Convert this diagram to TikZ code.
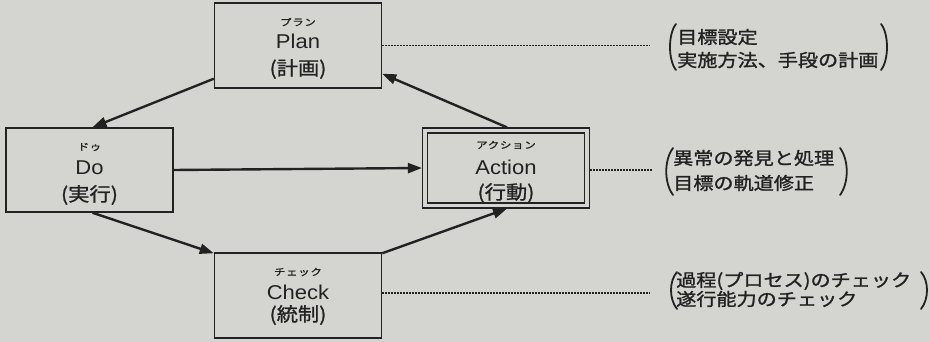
\documentclass[tikz,border=0pt]{standalone}
\usepackage{fontspec}
\setmainfont{Liberation Sans}[FakeStretch=1.1]
\newfontfamily\jp{Noto Sans CJK JP}[FakeStretch=1.12,FakeBold=1.2]
\newfontfamily\jpnote{Noto Sans CJK JP}[FakeStretch=1.15,FakeBold=1.4]
\newfontfamily\jpruby{Noto Sans CJK JP}[FakeStretch=1.2,LetterSpace=8,FakeBold=1.5]
\usetikzlibrary{arrows.meta,calc}
\definecolor{paper}{RGB}{212,212,208}
\definecolor{ink}{RGB}{34,34,34}
\begin{document}
\begin{tikzpicture}[x=1pt,y=-1pt,
  box/.style={draw=ink,line width=1.5pt,fill=paper,minimum width=167pt,minimum height=85pt,inner sep=0pt,outer sep=0.75pt},
  dbox/.style={draw=ink,line width=1.3pt,double=paper,double distance=3.6pt,minimum width=162pt,minimum height=75pt,inner sep=0pt,outer sep=3.1pt},
  arr/.style={draw=ink,line width=2.4pt,-{Triangle[length=14pt,width=10pt]}},
  dots/.style={draw=ink,line width=1.1pt,dash pattern=on 1.4pt off 1.6pt},
  paren/.style={draw=ink,line width=1.8pt,line cap=round},
  ruby/.style={text=ink,font=\jpruby\fontsize{9.5}{10}\selectfont,inner sep=0pt},
  lat/.style={text=ink,font=\fontsize{20}{21}\selectfont,inner sep=0pt},
  jpl/.style={text=ink,font=\jp\fontsize{19}{20}\selectfont,inner sep=0pt},
  note/.style={text=ink,font=\jpnote\fontsize{17.5}{18}\selectfont,inner sep=0pt,anchor=west}
]
\fill[paper] (0,0) rectangle (929,342);
\useasboundingbox (0,0) rectangle (929,342);

% boxes
\node[box] (plan) at (298,45.5) {};
\node[box,minimum height=84pt] (do) at (89.5,170) {};
\node[dbox] (action) at (506,168) {};
\node[box] (check) at (298,295.5) {};

% box labels
\node[ruby] (planr) at (298,22) {プラン};
\node[lat] (planl) at (298,41) {Plan};
\node[jpl] (planj) at (298,69) {(計画)};

\node[ruby] (dor) at (89.5,147) {ドゥ};
\node[lat] (dol) at (89.5,168) {Do};
\node[jpl] (doj) at (89.5,195) {(実行)};

\node[ruby] (actr) at (506,145) {アクション};
\node[lat] (actl) at (506,167) {Action};
\node[jpl] (actj) at (506,193) {(行動)};

\node[ruby] (chkr) at (298,272) {チェック};
\node[lat] (chkl) at (298,292) {Check};
\node[jpl] (chkj) at (298,315) {(統制)};

% arrows
\draw[arr] ([yshift=10pt]plan.south west) -- ([xshift=3pt]do.north);
\draw[arr] ([xshift=3pt]do.south) -- ([yshift=-1pt]check.north west);
\draw[arr] ([yshift=-1pt]check.north east) -- ([xshift=1pt]action.south);
\draw[arr] ([xshift=1pt]action.north) -- ([yshift=15pt]plan.south east);
\draw[arr] (do.east) -- (action.west);

% dotted leaders
\coordinate (n1) at (650,45.5);
\coordinate (n2) at (652,170);
\coordinate (n3) at (650,293);
\draw[dots] (plan.east) -- (n1);
\draw[dots] ([yshift=-2pt]action.east) -- (n2);
\draw[dots] ([yshift=2.5pt]check.east) -- (n3);

% notes
\node[note] (t1a) at (677,37) {目標設定};
\node[note] (t1b) at (677,60) {実施方法、手段の計画};
\draw[paren] (676,24) .. controls (668,34) and (668,60) .. (676,70);
\draw[paren] (881,24) .. controls (889,34) and (889,60) .. (881,70);

\node[note] (t2a) at (673,158) {異常の発見と処理};
\node[note] (t2b) at (673,183) {目標の軌道修正};
\draw[paren] (673,148) .. controls (664,160) and (664,183) .. (673,195);
\draw[paren] (840,148) .. controls (849,160) and (849,183) .. (840,195);

\node[note] (t3a) at (676,281) {過程(プロセス)のチェック};
\node[note] (t3b) at (676,299) {遂行能力のチェック};
\draw[paren] (677,272) .. controls (669,281) and (669,299) .. (677,309);
\draw[paren] (921,272) .. controls (929,281) and (929,299) .. (921,309);
\end{tikzpicture}
\end{document}
